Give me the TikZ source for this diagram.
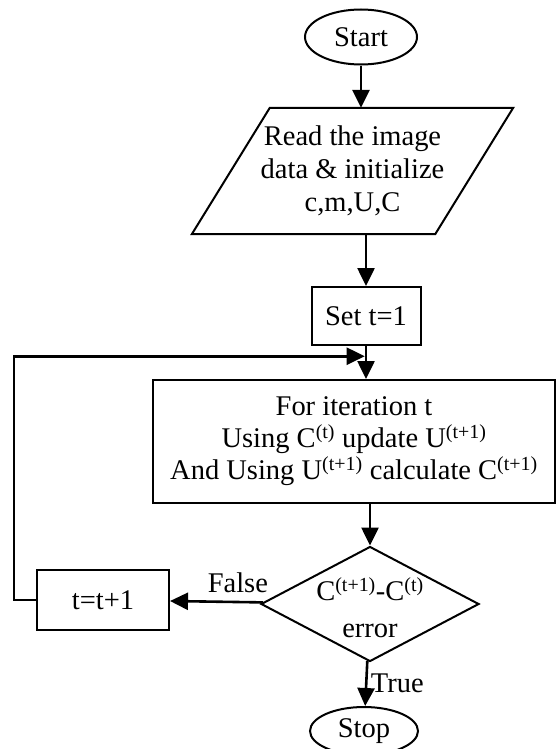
\documentclass[tikz,border=0pt]{standalone}
\usepackage{fontspec}
\setmainfont{Liberation Serif}
\usepackage{tikz}
\usetikzlibrary{calc,arrows.meta,positioning,shapes.geometric}

\begin{document}
\begin{tikzpicture}[x=1bp,y=-1bp,>={Triangle[length=18bp,width=17bp]},
    font=\fontsize{28.6}{33}\selectfont,
    box/.style={draw,line width=2bp,inner sep=0pt},
    flow/.style={->,line width=2.6bp}]
  \useasboundingbox (0,0) rectangle (556,749);
  % shapes
  \node[box,ellipse,minimum width=112bp,minimum height=55bp] (start) at (361,37) {Start};
  \node[align=center,inner sep=0pt,minimum width=243bp,minimum height=126bp] (read) at (352.5,171)
        {Read the image\\data \& initialize\\c,m,U,C};
  \draw[line width=2bp] ($(read.north west)+(39,0)$) -- ($(read.north east)+(39,0)$)
        -- ($(read.south east)+(-39,0)$) -- ($(read.south west)+(-39,0)$) -- cycle;
  \node[box,minimum width=109bp,minimum height=58bp] (set) at (366,316) {Set t=1};
  \node[box,minimum width=402bp,minimum height=123bp,align=center,
        font=\fontsize{28.6}{32}\selectfont] (iter) at (354,441.5)
        {For iteration t\\Using C\textsuperscript{(t)} update U\textsuperscript{(t+1)}\\
         And Using U\textsuperscript{(t+1)} calculate C\textsuperscript{(t+1)}};
  \node[box,diamond,minimum width=218bp,minimum height=115bp] (check) at (370,604) {};
  \node[align=center,inner sep=0pt,font=\fontsize{28.6}{37}\selectfont] (checktext) at (370,608)
        {C\textsuperscript{(t+1)}-C\textsuperscript{(t)}\\error};
  \node[box,minimum width=132bp,minimum height=60bp] (tinc) at (103,600) {t=t+1};
  \node[box,ellipse,minimum width=108bp,minimum height=48bp] (stop) at (364,731) {Stop};
  % connectors
  \draw[flow] (start) -- (start |- read.north);
  \draw[flow] (set.north |- read.south) -- (set);
  \draw[flow] (set) -- (set |- iter.north);
  \draw[flow] (check |- iter.south) -- (check);
  \draw[flow] (check) -- node[pos=0.27,above=5bp] (falselabel) {False} (tinc);
  \draw[flow] (check) -- node[midway,right] (truelabel) {True} (stop);
  \coordinate (join) at ($(set.south)!0.31!(set.south |- iter.north)$);
  \draw[flow,shorten >=1.3bp] (tinc.west) -- ++(-22,0) |- (join);
\end{tikzpicture}
\end{document}
